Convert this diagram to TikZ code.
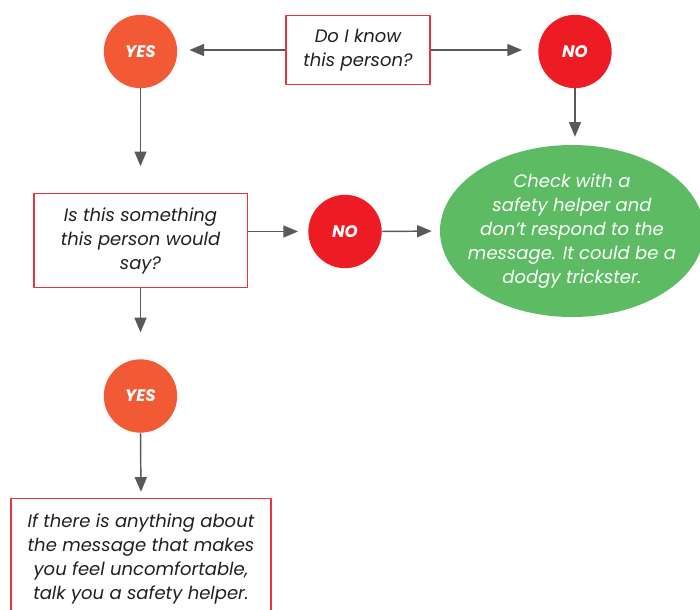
\documentclass[tikz,border=0pt]{standalone}
\usepackage{fontspec}
\setmainfont{Poppins}
\usetikzlibrary{arrows.meta,shapes.geometric}
\definecolor{yesorange}{HTML}{F15A35}
\definecolor{nored}{HTML}{ED1C24}
\definecolor{boxred}{HTML}{E8343C}
\definecolor{helpgreen}{HTML}{5DBB63}
\definecolor{linegray}{HTML}{58595B}
\definecolor{textgray}{HTML}{231F20}
\begin{document}
\begin{tikzpicture}[x=0.75pt,y=-0.75pt,line join=round,>={Triangle[length=11pt,width=9pt]}]
			\tikzset{answer/.style={circle,minimum size=55pt,inner sep=0pt,text=white,font=\bfseries\itshape\fontsize{12.5}{15}\selectfont},
				question/.style={draw=boxred,line width=1pt,fill=white,align=center,inner sep=0pt,text=textgray,font=\itshape\fontsize{13.5}{18}\selectfont},
				link/.style={->,draw=linegray,line width=1.1pt}}
			\useasboundingbox (0,0) rectangle (700,610);
			% questions and answers
			\node[question,minimum width=108pt,minimum height=51.75pt] (know) at (358,50) {Do I know\\this person?};
			\node[answer,fill=yesorange] (yes1) at (140.5,51.5) {YES};
			\node[answer,fill=nored] (no1) at (575,51.5) {NO};
			\node[ellipse,fill=helpgreen,minimum width=198pt,minimum height=129pt,inner xsep=-12pt,inner ysep=0pt,align=center,text=white,
				font=\itshape\fontsize{13.5}{18}\selectfont] (check) at (572,231)
				{Check with a\\safety helper and\\don’t respond to the\\message. It could be a\\dodgy trickster.};
			\node[question,minimum width=160pt,minimum height=70.5pt] (say) at (140.5,240.5) {Is this something\\this person would\\say?};
			\node[answer,fill=nored] (no2) at (345,231.5) {NO};
			\node[answer,fill=yesorange] (yes2) at (140.5,396) {YES};
			\node[question,minimum width=195pt,minimum height=90pt] (talk) at (141,558.5)
				{If there is anything about\\the message that makes\\you feel uncomfortable,\\talk you a safety helper.};
			% connectors
			\draw[link,shorten >=9pt] (know.west) -- (know.west -| yes1.east);
			\draw[link,shorten >=12pt] (know.east) -- (know.east -| no1.west);
			\draw[link,shorten >=6pt] (no1.south) -- (no1.south |- check.north);
			\draw[link,shorten >=20pt] (yes1.south) -- (say.north);
			\draw[link,shorten >=7.5pt] (say.east |- no2) -- (no2.west);
			\draw[link,shorten >=6pt] (no2.east) -- (check.west);
			\draw[link,shorten >=20pt] (say.south) -- (yes2.north);
			\draw[link,shorten >=4.5pt] (yes2.south) -- (talk.north);
		\end{tikzpicture}
\end{document}
